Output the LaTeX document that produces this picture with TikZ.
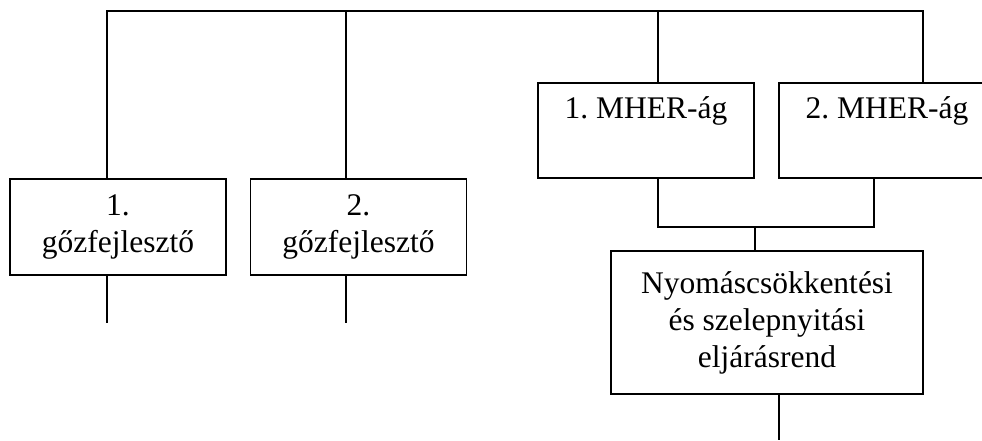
\documentclass[tikz,border=0pt]{standalone}
\usepackage{fontspec}
\setmainfont{Liberation Serif}
\frenchspacing
\begin{document}
\begin{tikzpicture}[x=1pt,y=-1pt,
  every node/.style={font=\fontsize{31.5}{37}\selectfont},
  box/.style={draw,line width=1.8pt,inner sep=0pt,align=center,minimum width=216pt,minimum height=96pt},
  branchbox/.style={draw,line width=1.8pt,inner sep=0pt,minimum width=216pt,text height=35pt,text depth=60pt},
  wire/.style={line width=2.2pt,line join=miter}]
\useasboundingbox (0,0) rectangle (982,440);
\clip (0,0) rectangle (982,440);

% steam generators
\node[box] (g1) at (118,227) {1.\\gőzfejlesztő};
\node[box] (g2) at (358.5,227) {2.\\gőzfejlesztő};

% MHER branches
\node[branchbox,anchor=base] (m1) at (646,118) {1. MHER-ág};
\node[branchbox,anchor=base] (m2) at (887,118) {2. MHER-ág};

% procedure
\node[box,minimum width=312pt,minimum height=143pt] (p) at (767,322.5)
  {Nyomáscsökkentési\\és szelepnyitási\\eljárásrend};

% junction points
\coordinate (t1) at (106.7,11);
\coordinate (t2) at (346,11);
\coordinate (t3) at (658,11);
\coordinate (t4) at (922.7,11);
\coordinate (e1) at (106.7,322.7);
\coordinate (e2) at (346,322.7);
\coordinate (j1) at (658,227);
\coordinate (j2) at (874,227);
\coordinate (jm) at (755,227);
\coordinate (e3) at (779,440);

% top bus
\draw[wire] (t1 |- g1.north) -- (t1) -- (t4) -- (t4 |- m2.north);
\draw[wire] (t2) -- (t2 |- g2.north);
\draw[wire] (t3) -- (t3 |- m1.north);

% outgoing lines of the steam generators
\draw[wire] (e1 |- g1.south) -- (e1);
\draw[wire] (e2 |- g2.south) -- (e2);

% MHER branches joined into the procedure
\draw[wire] (j1 |- m1.south) -- (j1) -- (j2) -- (j2 |- m2.south);
\draw[wire] (jm) -- (jm |- p.north);
\draw[wire] (e3 |- p.south) -- (e3);
\end{tikzpicture}
\end{document}
